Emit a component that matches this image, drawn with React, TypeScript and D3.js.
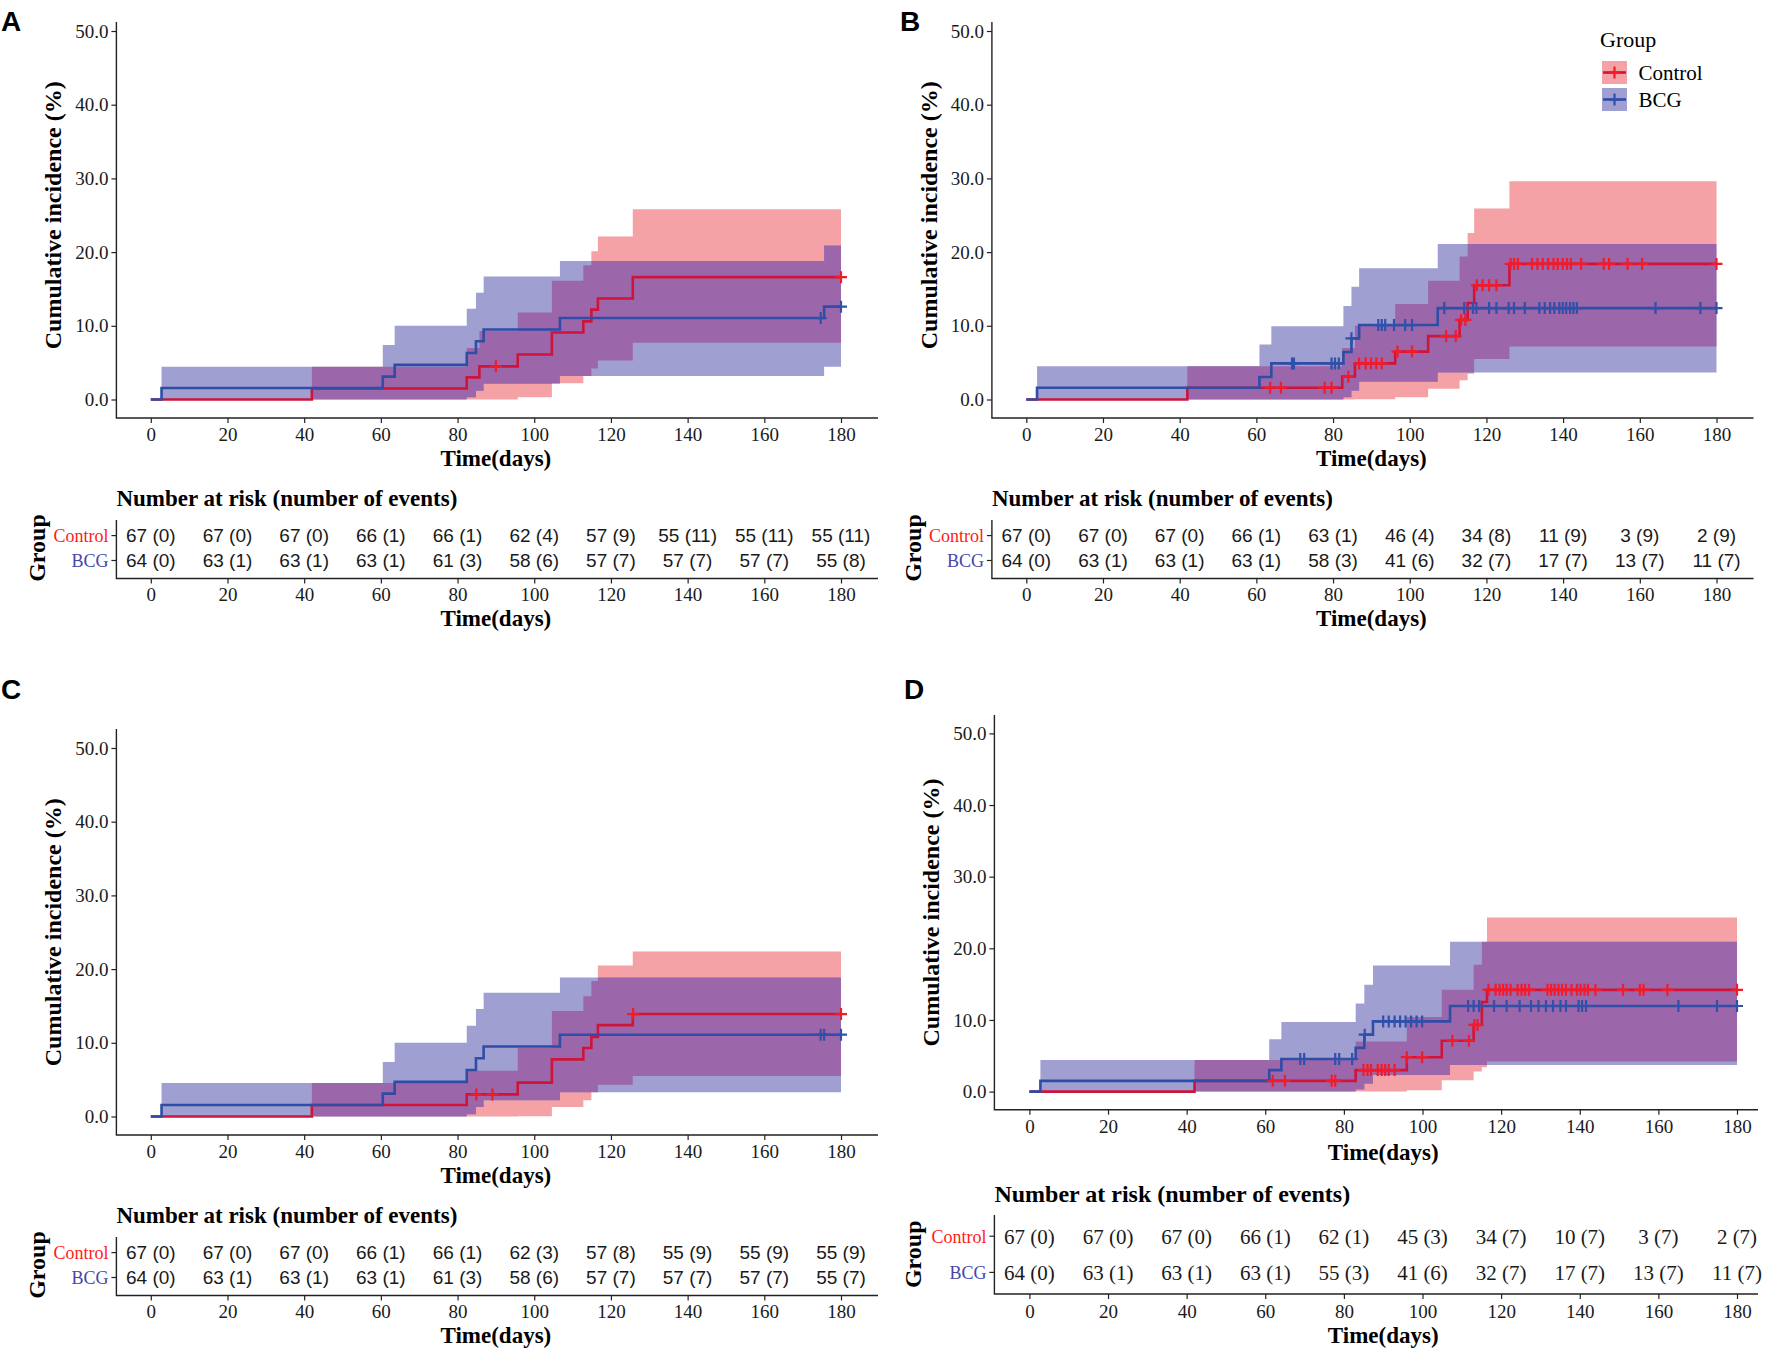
import { useEffect, useRef } from "react";
import * as d3 from "d3";

const SERIF = "'Liberation Serif', 'Times New Roman', serif";
const SANS = "'Liberation Sans', Arial, sans-serif";

const PINK = "#F4A2A6";
const LBLUE = "#A09FD1";
const PURPLE = "#9C67AA";
const RED_LINE = "#CE143A";
const RED_MARK = "#F21B2A";
const BLUE_LINE = "#2F4CA6";
const BLUE_MARK = "#3050AA";
const AXIS = "#222";

const DAY_TICKS = [0, 20, 40, 60, 80, 100, 120, 140, 160, 180];
const PCT_TICKS = [0, 10, 20, 30, 40, 50];
const GROUPS = ["Control", "BCG"];

// ---- Panel A ----
const aCtlTime = [0, 42, 82.4, 85.7, 95.7, 104.6, 112.8, 114.9, 116.6, 125.7];
const aCtlEst = [0, 1.5, 3.0, 4.5, 6.1, 9.1, 10.6, 12.2, 13.7, 16.6];
const aCtlLow = [0, 0, 0, 0, 0.3, 2.2, 3.2, 4.2, 5.3, 7.7];
const aCtlHigh = [0, 4.45, 7.0, 9.3, 11.8, 16.1, 18.2, 20.1, 22.1, 25.8];
const aCtlCensor = [90, 180];
const aBcgTime = [0, 2.8, 60.5, 63.6, 82.4, 84.8, 86.8, 106.7, 175.6];
const aBcgEst = [0, 1.56, 3.1, 4.7, 6.3, 7.9, 9.5, 11.05, 12.6];
const aBcgLow = [0, 0, 0, 0, 0.3, 1.2, 2.15, 3.2, 4.45];
const aBcgHigh = [0, 4.45, 7.4, 10.0, 12.3, 14.5, 16.7, 18.8, 20.9];
const aBcgCensor = [174.7, 180];
const aCtlRisk = ["67 (0)", "67 (0)", "67 (0)", "66 (1)", "66 (1)", "62 (4)", "57 (9)", "55 (11)", "55 (11)", "55 (11)"];
const aBcgRisk = ["64 (0)", "63 (1)", "63 (1)", "63 (1)", "61 (3)", "58 (6)", "57 (7)", "57 (7)", "57 (7)", "55 (8)"];

// ---- Panel B ----
const bCtlTime = [0, 42, 82.4, 85.7, 96.2, 104.8, 113.0, 115.1, 116.8, 126.0];
const bCtlEst = [0, 1.6, 3.1, 4.9, 6.5, 8.6, 10.8, 13.1, 15.5, 18.4];
const bCtlLow = [0, 0, 0, 0.05, 0.3, 1.45, 2.6, 3.5, 5.5, 7.2];
const bCtlHigh = [0, 4.5, 7.0, 10.0, 12.95, 16.1, 19.4, 22.6, 25.9, 29.6];
const bCtlCensor = [63.6, 66.4, 77.8, 79.6, 84.0, 86.8, 88.5, 89.9, 91.3, 92.7, 96.8, 100.6, 109.5, 112.0, 113.4, 114.5,
  117.5, 119.0, 120.7, 122.6, 126.3, 127.2, 128.2, 131.9, 133.3, 134.7, 136.1, 137.5, 138.6, 139.9, 141.0, 142.0,
  144.7, 150.6, 152.0, 156.8, 160.6, 180];
const bBcgTime = [0, 2.8, 60.8, 63.9, 82.7, 84.8, 86.8, 107.3];
const bBcgEst = [0, 1.6, 3.05, 4.9, 6.45, 8.3, 10.1, 12.4];
const bBcgLow = [0, 0, 0, 0, 0.3, 1.2, 2.4, 3.65];
const bBcgHigh = [0, 4.5, 7.45, 9.95, 12.7, 15.3, 17.8, 21.1];
const bBcgCensor = [69.3, 69.8, 79.6, 80.5, 81.5, 84.8, 91.8, 92.7, 93.6, 95.9, 98.8, 100.6, 109.0, 114.2, 116.5, 117.4,
  120.7, 122.6, 125.8, 127.2, 130.0, 133.8, 135.2, 136.6, 137.7, 139.0, 139.9, 140.8, 141.8, 142.7, 143.6,
  164.1, 175.8, 180];
const bCtlRisk = ["67 (0)", "67 (0)", "67 (0)", "66 (1)", "63 (1)", "46 (4)", "34 (8)", "11 (9)", "3 (9)", "2 (9)"];
const bBcgRisk = ["64 (0)", "63 (1)", "63 (1)", "63 (1)", "58 (3)", "41 (6)", "32 (7)", "17 (7)", "13 (7)", "11 (7)"];

// ---- Panel C ----
const cCtlTime = [0, 42, 82.4, 95.7, 104.6, 112.8, 114.9, 116.6, 125.7];
const cCtlEst = [0, 1.56, 3.0, 4.6, 7.75, 9.3, 10.8, 12.4, 13.9];
const cCtlLow = [0, 0, 0, 0.05, 1.3, 2.2, 3.3, 4.3, 5.5];
const cCtlHigh = [0, 4.55, 6.2, 9.3, 14.3, 16.3, 18.4, 20.5, 22.4];
const cCtlCensor = [84.9, 89.1, 125.8, 180];
const cBcgTime = [0, 2.8, 60.5, 63.6, 82.4, 84.8, 86.8, 106.7];
const cBcgEst = [0, 1.56, 3.1, 4.7, 6.3, 7.9, 9.5, 11.1];
const cBcgLow = [0, 0, 0, 0, 0.3, 1.3, 2.2, 3.3];
const cBcgHigh = [0, 4.55, 7.4, 10.0, 12.3, 14.6, 16.8, 18.85];
const cBcgCensor = [174.7, 175.6, 180];
const cCtlRisk = ["67 (0)", "67 (0)", "67 (0)", "66 (1)", "66 (1)", "62 (3)", "57 (8)", "55 (9)", "55 (9)", "55 (9)"];
const cBcgRisk = ["64 (0)", "63 (1)", "63 (1)", "63 (1)", "61 (3)", "58 (6)", "57 (7)", "57 (7)", "57 (7)", "55 (7)"];

// ---- Panel D ----
const dCtlTime = [0, 42, 83.0, 96.0, 104.9, 113.0, 115.1, 116.4];
const dCtlEst = [0, 1.5, 3.0, 4.8, 7.1, 9.3, 12.5, 14.2];
const dCtlLow = [0, 0, 0, 0.2, 1.6, 2.8, 3.4, 4.2];
const dCtlHigh = [0, 4.4, 7.0, 10.4, 14.2, 17.7, 20.9, 24.3];
const dCtlCensor = [61.9, 65.0, 76.9, 77.8, 85.0, 86.0, 86.9, 88.6, 89.6, 90.5, 91.4, 92.9, 96.0, 99.9, 107.6, 111.8,
  113.2, 114.0, 116.8, 118.6, 119.6, 120.5, 121.4, 122.4, 124.2, 125.2, 126.1, 127.1, 131.8, 132.7, 133.6, 134.6,
  135.5, 136.5, 137.9, 139.3, 140.2, 141.2, 142.1, 144.0, 151.0, 155.3, 156.2, 162.3, 180];
const dBcgTime = [0, 2.8, 61.0, 64.1, 83.0, 85.2, 87.4, 107.0];
const dBcgEst = [0, 1.5, 3.0, 4.55, 6.1, 7.95, 9.8, 11.95];
const dBcgLow = [0, 0, 0, 0, 0.3, 1.1, 2.3, 3.7];
const dBcgHigh = [0, 4.4, 7.3, 9.7, 12.3, 14.9, 17.6, 20.9];
const dBcgCensor = [68.9, 69.9, 77.8, 78.8, 82.1, 85.3, 90.0, 91.4, 92.9, 94.3, 95.7, 97.1, 98.5, 99.9, 111.6, 113.0,
  114.4, 118.2, 121.4, 124.7, 127.6, 129.5, 131.4, 133.2, 135.1, 136.5, 139.7, 140.6, 141.6, 165.1, 174.9, 180];
const dCtlRisk = ["67 (0)", "67 (0)", "67 (0)", "66 (1)", "62 (1)", "45 (3)", "34 (7)", "10 (7)", "3 (7)", "2 (7)"];
const dBcgRisk = ["64 (0)", "63 (1)", "63 (1)", "63 (1)", "55 (3)", "41 (6)", "32 (7)", "17 (7)", "13 (7)", "11 (7)"];

type Series = { time: number[]; est: number[]; low: number[]; high: number[]; censor: number[] };

const panels = [
  {
    key: "A",
    ctl: { time: aCtlTime, est: aCtlEst, low: aCtlLow, high: aCtlHigh, censor: aCtlCensor },
    bcg: { time: aBcgTime, est: aBcgEst, low: aBcgLow, high: aBcgHigh, censor: aBcgCensor },
    risk: [aCtlRisk, aBcgRisk],
    legend: false,
    riskFont: SANS, riskSize: 19,
    L: { letterX: 1, letterY: 30.5, axisLeft: 116.4, axisRight: 878, x0: 150.8, x1: 841, y0: 399.5, y50: 31,
      axisTop: 22, axisBottom: 418, xTitleY: 457.6, yTitleX: 53, riskTitleY: 498.3, riskTop: 520,
      row1: 535.6, row2: 560.5, riskAxis: 578.5, riskXTitleY: 618, groupX: 37 },
  },
  {
    key: "B",
    ctl: { time: bCtlTime, est: bCtlEst, low: bCtlLow, high: bCtlHigh, censor: bCtlCensor },
    bcg: { time: bBcgTime, est: bBcgEst, low: bBcgLow, high: bBcgHigh, censor: bBcgCensor },
    risk: [bCtlRisk, bBcgRisk],
    legend: true,
    riskFont: SANS, riskSize: 19,
    L: { letterX: 900, letterY: 30.5, axisLeft: 991.9, axisRight: 1753.5, x0: 1026.3, x1: 1716.5, y0: 399.5, y50: 31,
      axisTop: 22, axisBottom: 418, xTitleY: 457.6, yTitleX: 928.5, riskTitleY: 498.3, riskTop: 520,
      row1: 535.6, row2: 560.5, riskAxis: 578.5, riskXTitleY: 618, groupX: 912.5 },
  },
  {
    key: "C",
    ctl: { time: cCtlTime, est: cCtlEst, low: cCtlLow, high: cCtlHigh, censor: cCtlCensor },
    bcg: { time: cBcgTime, est: cBcgEst, low: cBcgLow, high: cBcgHigh, censor: cBcgCensor },
    risk: [cCtlRisk, cBcgRisk],
    legend: false,
    riskFont: SANS, riskSize: 19,
    L: { letterX: 1, letterY: 699, axisLeft: 116.4, axisRight: 878, x0: 150.8, x1: 841, y0: 1116.5, y50: 748,
      axisTop: 729, axisBottom: 1135, xTitleY: 1174.6, yTitleX: 53, riskTitleY: 1215.3, riskTop: 1237,
      row1: 1252.6, row2: 1277.5, riskAxis: 1295.5, riskXTitleY: 1335, groupX: 37 },
  },
  {
    key: "D",
    ctl: { time: dCtlTime, est: dCtlEst, low: dCtlLow, high: dCtlHigh, censor: dCtlCensor },
    bcg: { time: dBcgTime, est: dBcgEst, low: dBcgLow, high: dBcgHigh, censor: dBcgCensor },
    risk: [dCtlRisk, dBcgRisk],
    legend: false,
    riskFont: SERIF, riskSize: 21,
    L: { letterX: 904, letterY: 699, axisLeft: 994.4, axisRight: 1758, x0: 1029.4, x1: 1737, y0: 1091.6, y50: 733.4,
      axisTop: 715, axisBottom: 1109.7, xTitleY: 1151.5, yTitleX: 931, riskTitleY: 1193.3, riskTop: 1215,
      row1: 1236.2, row2: 1272.4, riskAxis: 1294, riskXTitleY: 1334.5, groupX: 913 },
  },
];

const App = () => {
  const ref = useRef<SVGSVGElement>(null);

  useEffect(() => {
    const svg = d3.select(ref.current);
    svg.selectAll("*").remove();
    const defs = svg.append("defs");

    panels.forEach((p) => {
      const L = p.L;
      const x = d3.scaleLinear().domain([0, 180]).range([L.x0, L.x1]);
      const y = d3.scaleLinear().domain([0, 50]).range([L.y0, L.y50]);
      const g = svg.append("g");

      // panel letter
      g.append("text")
        .attr("x", L.letterX)
        .attr("y", L.letterY)
        .attr("font-family", SANS)
        .attr("font-weight", "bold")
        .attr("font-size", 28)
        .text(p.key);

      const pts = (s: Series) =>
        s.time
          .map((t, i) => ({ t, e: s.est[i], lo: s.low[i], hi: s.high[i] }))
          .concat([{ t: 180, e: s.est[s.est.length - 1], lo: s.low[s.low.length - 1], hi: s.high[s.high.length - 1] }]);
      const ctlPts = pts(p.ctl);
      const bcgPts = pts(p.bcg);

      const area = d3
        .area<any>()
        .curve(d3.curveStepAfter)
        .x((d) => x(d.t))
        .y0((d) => y(d.lo))
        .y1((d) => y(d.hi));
      const line = d3
        .line<any>()
        .curve(d3.curveStepAfter)
        .x((d) => x(d.t))
        .y((d) => y(d.e));

      // confidence bands, the overlap drawn purple
      g.append("path").attr("d", area(ctlPts)).attr("fill", PINK);
      g.append("path").attr("d", area(bcgPts)).attr("fill", LBLUE);
      defs.append("clipPath").attr("id", `clip-${p.key}`).append("path").attr("d", area(bcgPts));
      g.append("path").attr("d", area(ctlPts)).attr("fill", PURPLE).attr("clip-path", `url(#clip-${p.key})`);

      // step lines
      g.append("path").attr("d", line(ctlPts)).attr("fill", "none").attr("stroke", RED_LINE).attr("stroke-width", 2.6);
      g.append("path").attr("d", line(bcgPts)).attr("fill", "none").attr("stroke", BLUE_LINE).attr("stroke-width", 2.6);

      // censor marks
      const levelAt = (s: Series, t: number) => s.est[Math.max(0, d3.bisectRight(s.time, t) - 1)];
      const plus = (cx: number, cy: number, r: number) => `M${cx - r},${cy}H${cx + r}M${cx},${cy - r}V${cy + r}`;
      [
        { s: p.ctl, c: RED_MARK },
        { s: p.bcg, c: BLUE_MARK },
      ].forEach(({ s, c }) => {
        g.append("g")
          .selectAll("path")
          .data(s.censor)
          .join("path")
          .attr("d", (t) => plus(x(t), y(levelAt(s, t)), 6))
          .attr("stroke", c)
          .attr("stroke-width", 2.2)
          .attr("fill", "none");
      });

      // axes
      const styleAxis = (sel: any, size: number) => {
        sel.select(".domain").remove();
        sel.selectAll("line").attr("stroke", AXIS).attr("stroke-width", 1.2);
        sel.selectAll("text").attr("font-family", SERIF).attr("font-size", size).attr("fill", "#1a1a1a");
      };
      g.append("g")
        .attr("transform", `translate(${L.axisLeft},0)`)
        .call(d3.axisLeft(y).tickValues(PCT_TICKS).tickFormat(d3.format(".1f")).tickSize(5).tickPadding(3))
        .call((s) => styleAxis(s, 19));
      g.append("g")
        .attr("transform", `translate(0,${L.axisBottom})`)
        .call(d3.axisBottom(x).tickValues(DAY_TICKS).tickSize(5).tickPadding(5))
        .call((s) => styleAxis(s, 19));
      g.append("path")
        .attr("d", `M${L.axisLeft},${L.axisTop}V${L.axisBottom}H${L.axisRight}`)
        .attr("fill", "none")
        .attr("stroke", AXIS)
        .attr("stroke-width", 1.4);

      g.append("text")
        .attr("x", (L.x0 + L.x1) / 2)
        .attr("y", L.xTitleY)
        .attr("dy", "0.35em")
        .attr("text-anchor", "middle")
        .attr("font-family", SERIF)
        .attr("font-weight", "bold")
        .attr("font-size", 23)
        .text("Time(days)");
      g.append("text")
        .attr("transform", `translate(${L.yTitleX},${(L.y0 + L.y50) / 2}) rotate(-90)`)
        .attr("dy", "0.35em")
        .attr("text-anchor", "middle")
        .attr("font-family", SERIF)
        .attr("font-weight", "bold")
        .attr("font-size", 24)
        .text("Cumulative incidence (%)");

      // legend
      if (p.legend) {
        const lg = g.append("g");
        lg.append("text")
          .attr("x", 1600)
          .attr("y", 39.5)
          .attr("dy", "0.35em")
          .attr("font-family", SERIF)
          .attr("font-size", 22)
          .text("Group");
        GROUPS.forEach((name, i) => {
          const ky = 61 + i * 27;
          const col = i === 0 ? [PINK, RED_LINE, RED_MARK] : [LBLUE, BLUE_LINE, BLUE_MARK];
          lg.append("rect").attr("x", 1602).attr("y", ky).attr("width", 25).attr("height", 23).attr("fill", col[0]);
          lg.append("path")
            .attr("d", `M1603,${ky + 11.5}H1626`)
            .attr("stroke", col[1])
            .attr("stroke-width", 2.6);
          lg.append("path").attr("d", plus(1614.5, ky + 11.5, 6)).attr("stroke", col[2]).attr("stroke-width", 2.2);
          lg.append("text")
            .attr("x", 1638.5)
            .attr("y", ky + 11.5)
            .attr("dy", "0.35em")
            .attr("font-family", SERIF)
            .attr("font-size", 21)
            .text(name);
        });
      }

      // risk table
      g.append("text")
        .attr("x", L.axisLeft)
        .attr("y", L.riskTitleY)
        .attr("dy", "0.35em")
        .attr("font-family", SERIF)
        .attr("font-weight", "bold")
        .attr("font-size", p.key === "D" ? 24 : 23)
        .text("Number at risk (number of events)");
      const rows = [L.row1, L.row2];
      rows.forEach((ry, i) => {
        g.append("line")
          .attr("x1", L.axisLeft - 5)
          .attr("x2", L.axisLeft)
          .attr("y1", ry)
          .attr("y2", ry)
          .attr("stroke", AXIS)
          .attr("stroke-width", 1.2);
        g.append("text")
          .attr("x", L.axisLeft - 8)
          .attr("y", ry)
          .attr("dy", "0.35em")
          .attr("text-anchor", "end")
          .attr("font-family", SERIF)
          .attr("font-size", 18)
          .attr("fill", i === 0 ? "#FF1A1A" : "#4646A8")
          .text(GROUPS[i]);
        g.append("g")
          .selectAll("text")
          .data(p.risk[i])
          .join("text")
          .attr("x", (_d, j) => x(DAY_TICKS[j]))
          .attr("y", ry)
          .attr("dy", "0.35em")
          .attr("text-anchor", "middle")
          .attr("font-family", p.riskFont)
          .attr("font-size", p.riskSize)
          .attr("fill", "#1a1a1a")
          .text((d) => d);
      });
      g.append("g")
        .attr("transform", `translate(0,${L.riskAxis})`)
        .call(d3.axisBottom(x).tickValues(DAY_TICKS).tickSize(5).tickPadding(p.key === "D" ? 6 : 4))
        .call((s) => styleAxis(s, 19));
      g.append("path")
        .attr("d", `M${L.axisLeft},${L.riskTop}V${L.riskAxis}H${L.axisRight}`)
        .attr("fill", "none")
        .attr("stroke", AXIS)
        .attr("stroke-width", 1.4);
      g.append("text")
        .attr("x", (L.x0 + L.x1) / 2)
        .attr("y", L.riskXTitleY)
        .attr("dy", "0.35em")
        .attr("text-anchor", "middle")
        .attr("font-family", SERIF)
        .attr("font-weight", "bold")
        .attr("font-size", 23)
        .text("Time(days)");
      g.append("text")
        .attr("transform", `translate(${L.groupX},${(L.row1 + L.row2) / 2}) rotate(-90)`)
        .attr("dy", "0.35em")
        .attr("text-anchor", "middle")
        .attr("font-family", SERIF)
        .attr("font-weight", "bold")
        .attr("font-size", 24)
        .text("Group");
    });
  }, []);

  return (
    <svg
      ref={ref}
      width={1772}
      height={1348}
      style={{ position: "absolute", left: 0, top: 0, background: "#fff" }}
    />
  );
};

export default App;
